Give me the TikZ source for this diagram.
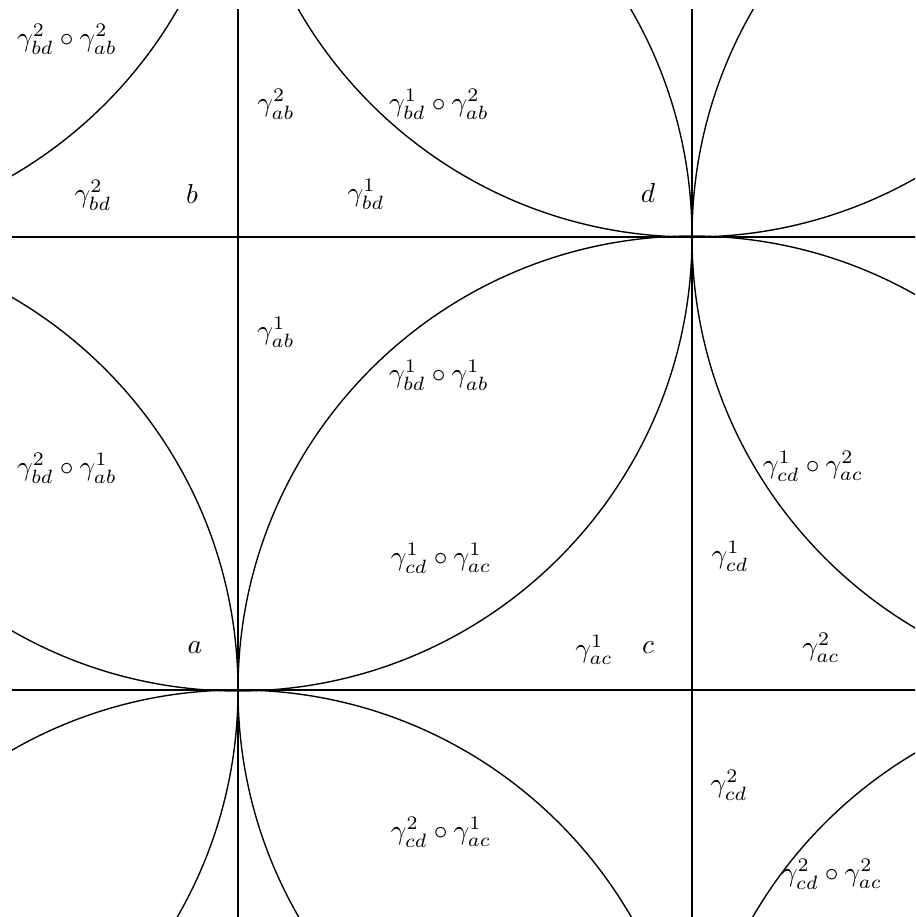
\documentclass[tikz,border=0pt]{standalone}
\begin{document}
\begin{tikzpicture}[x=0.0128cm,y=0.0128cm,
  curve/.style={line width=0.5pt},
  lbl/.style={inner sep=0pt}]
\useasboundingbox (0,0) rectangle (915,-917);
% lattice points
\coordinate (a) at (238,-690);
\coordinate (b) at (238,-237);
\coordinate (c) at (692,-690);
\coordinate (d) at (692,-237);
\coordinate (c00) at (-216,217);
\coordinate (c20) at (692,217);
\coordinate (c31) at (1146,-237);
\coordinate (c02) at (-216,-690);
\coordinate (c13) at (238,-1144);
\coordinate (c33) at (1146,-1144);
\begin{scope}
\clip (12,-10) rectangle (915,-917);
\draw[curve] (0,-237) -- (d) -- (1000,-237);
\draw[curve] (0,-690) -- (a) -- (1000,-690);
\draw[curve] (238,0) -- (b) -- (238,-1000);
\draw[curve] (692,0) -- (d) -- (692,-1000);
\foreach \p in {c00,c20,b,c31,c02,c,c13,c33}
  \draw[curve] (\p) circle (454);
\end{scope}
% labels
\node[lbl] (l1) at (67,-39) {$\gamma_{bd}^2\circ\gamma_{ab}^2$};
\node[lbl] (l2) at (93,-195) {$\gamma_{bd}^2$};
\node[lbl] (lb) at (192,-194) {$b$};
\node[lbl] (l3) at (276,-104) {$\gamma_{ab}^2$};
\node[lbl] (l4) at (439,-104) {$\gamma_{bd}^1\circ\gamma_{ab}^2$};
\node[lbl] (l5) at (366,-194) {$\gamma_{bd}^1$};
\node[lbl] (ld) at (648,-193) {$d$};
\node[lbl] (l6) at (276,-332) {$\gamma_{ab}^1$};
\node[lbl] (l7) at (439,-375) {$\gamma_{bd}^1\circ\gamma_{ab}^1$};
\node[lbl] (l8) at (67,-468) {$\gamma_{bd}^2\circ\gamma_{ab}^1$};
\node[lbl] (la) at (195,-648) {$a$};
\node[lbl] (l9) at (441,-558) {$\gamma_{cd}^1\circ\gamma_{ac}^1$};
\node[lbl] (l10) at (594,-650) {$\gamma_{ac}^1$};
\node[lbl] (lc) at (648,-648) {$c$};
\node[lbl] (l11) at (813,-466) {$\gamma_{cd}^1\circ\gamma_{ac}^2$};
\node[lbl] (l12) at (730,-556) {$\gamma_{cd}^1$};
\node[lbl] (l13) at (821,-648) {$\gamma_{ac}^2$};
\node[lbl] (l14) at (729,-785) {$\gamma_{cd}^2$};
\node[lbl] (l15) at (832,-874) {$\gamma_{cd}^2\circ\gamma_{ac}^2$};
\node[lbl] (l16) at (441,-832) {$\gamma_{cd}^2\circ\gamma_{ac}^1$};
\end{tikzpicture}
\end{document}
